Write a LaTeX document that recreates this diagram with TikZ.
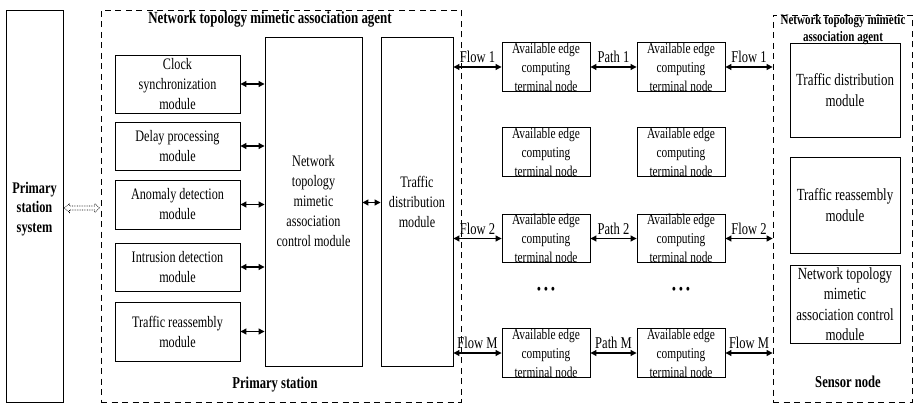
\documentclass[tikz,border=0pt]{standalone}
\usepackage{fontspec}
\setmainfont{Liberation Serif}[FakeStretch=0.76]
\usetikzlibrary{arrows.meta,calc}
\begin{document}
\begin{tikzpicture}[x=1pt,y=-1pt,
  box/.style={draw, line width=0.9pt, inner sep=0pt, align=center},
  dbox/.style={draw, dash pattern=on 6pt off 4.5pt, line width=0.8pt, inner sep=0pt},
  modtext/.style={font=\fontsize{16}{20}\selectfont},
  edgetext/.style={font=\fontsize{15}{19}\selectfont},
  rtext/.style={font=\fontsize{17}{20.5}\selectfont},
  btitle/.style={font=\bfseries\fontsize{16.6}{19}\selectfont, inner sep=0pt, align=center},
  lbl/.style={font=\fontsize{16.5}{18}\selectfont, inner sep=0pt},
  arr/.style={line width=1.1pt, {Triangle[length=6pt,width=6pt]}-{Triangle[length=6pt,width=6pt]}},
  tip/.style={draw, densely dotted, line width=0.7pt}
]
\useasboundingbox (0,0) rectangle (917,403);

% primary station system
\node[box, minimum width=57pt, minimum height=392pt] (pss) at (34.5,206) {};
\node[font=\bfseries\fontsize{16.2}{19.5}\selectfont, align=center, inner sep=0pt] (psst) at (34.5,209) {Primary\\station\\system};

% dashed containers
\node[dbox, minimum width=360pt, minimum height=392pt] (pbox) at (281,206) {};
\node[dbox, minimum width=139pt, minimum height=387pt] (sbox) at (842.5,208.5) {};

\node[btitle, font=\bfseries\fontsize{17}{19}\selectfont] (ptitle) at (270,19) {Network topology mimetic association agent};
\node[btitle, font=\bfseries\fontsize{14.5}{17}\selectfont] (stitle) at (843,30) {Network topology mimetic\\association agent};
\node[btitle] (pslabel) at (275,385) {Primary station};
\node[btitle] (snlabel) at (848,382) {Sensor node};

% left modules
\node[box, modtext, minimum width=125pt, minimum height=58pt] (clock) at (177.5,84) {Clock\\synchronization\\module};
\node[box, modtext, minimum width=125pt, minimum height=48pt] (delay) at (177.5,146) {Delay processing\\module};
\node[box, modtext, minimum width=125pt, minimum height=49pt] (anom) at (177.5,204.5) {Anomaly detection\\module};
\node[box, modtext, minimum width=125pt, minimum height=48pt] (intr) at (177.5,267) {Intrusion detection\\module};
\node[box, modtext, minimum width=125pt, minimum height=59pt] (reas) at (177.5,331.5) {Traffic reassembly\\module};

\node[box, modtext, minimum width=97pt, minimum height=329pt] (ctrl) at (313.5,201.5) {Network\\topology\\mimetic\\association\\control module};
\node[box, modtext, minimum width=72pt, minimum height=329pt] (dist) at (417,201.5) {Traffic\\distribution\\module};

\foreach \m in {clock,delay,anom,intr,reas}
  \draw[arr] (\m.east) -- (\m.east -| ctrl.west);
\draw[arr] ($(ctrl.east)+(0,1)$) -- ($(dist.west)+(0,1)$);

% edge nodes
\foreach \r/\y in {1/67,2/152,3/238.5,4/353}{
  \node[box, edgetext, minimum width=88pt, minimum height=48pt] (e\r a) at (546,\y) {Available edge\\computing\\terminal node};
  \node[box, edgetext, minimum width=88pt, minimum height=48pt] (e\r b) at (681,\y) {Available edge\\computing\\terminal node};
}

\draw[arr] (e1a.west -| dist.east) -- node[lbl, yshift=10pt] (f1l) {Flow 1} (e1a.west);
\draw[arr] (e1a.east) -- node[lbl, yshift=10pt] (p1) {Path 1} (e1b.west);
\draw[arr] (e1b.east) -- node[lbl, yshift=10pt] (f1r) {Flow 1} (e1b.east -| sbox.west);

\draw[arr] (e3a.west -| dist.east) -- node[lbl, yshift=10pt] (f2l) {Flow 2} (e3a.west);
\draw[arr] (e3a.east) -- node[lbl, yshift=10pt] (p2) {Path 2} (e3b.west);
\draw[arr] (e3b.east) -- node[lbl, yshift=10pt] (f2r) {Flow 2} (e3b.east -| sbox.west);

\draw[arr] (e4a.west -| dist.east) -- node[lbl, yshift=10pt] (fml) {Flow M} (e4a.west);
\draw[arr] (e4a.east) -- node[lbl, yshift=10pt] (pm) {Path M} (e4b.west);
\draw[arr] (e4b.east) -- node[lbl, yshift=10pt] (fmr) {Flow M} (e4b.east -| sbox.west);

\node[font=\fontsize{16}{16}\selectfont, inner sep=0pt] (dots1) at (546,291) {•\,•\,•};
\node[font=\fontsize{16}{16}\selectfont, inner sep=0pt] (dots2) at (681,291) {•\,•\,•};

% sensor node modules
\node[box, rtext, minimum width=110pt, minimum height=94pt] (sdist) at (845,90) {Traffic distribution\\module};
\node[box, rtext, minimum width=110pt, minimum height=96pt] (sreas) at (845,205) {Traffic reassembly\\module};
\node[box, rtext, minimum width=110pt, minimum height=78pt] (sctrl) at (845,304) {Network topology\\mimetic\\association control\\module};

% hollow dotted double arrow between system and agent
\coordinate (hl) at ($(pss.east)+(1,2)$);
\coordinate (hr) at ($(pbox.west)+(-1,2)$);
\draw[tip] (hl) -- ++(5,-4.5) -- ++(0,2.5) -- ($(hr)+(-5,-2)$) -- ++(0,-2.5) -- (hr)
  -- ++(-5,4.5) -- ++(0,-2.5) -- ($(hl)+(5,2)$) -- ++(0,2.5) -- cycle;
\end{tikzpicture}
\end{document}
